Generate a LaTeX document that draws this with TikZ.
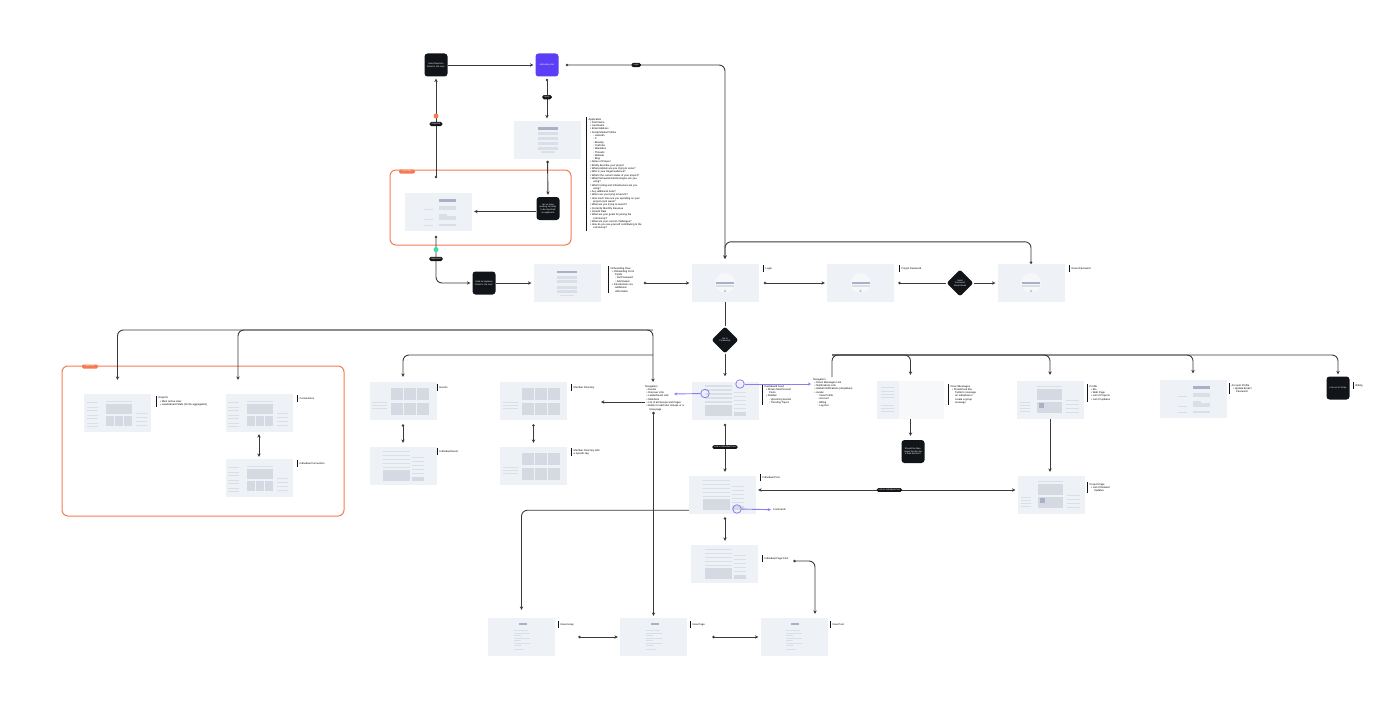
\documentclass[tikz,border=0pt]{standalone}
\usepackage{fontspec}
\setmainfont{Liberation Sans}
\usetikzlibrary{arrows.meta,shapes.geometric}

\definecolor{ink}{RGB}{17,20,24}
\definecolor{brandviolet}{RGB}{91,62,245}
\definecolor{adminorange}{RGB}{244,123,82}
\definecolor{approvegreen}{RGB}{61,219,176}
\definecolor{hotviolet}{RGB}{139,124,246}
\definecolor{scrfill}{RGB}{238,241,245}
\definecolor{uibarc}{RGB}{218,223,231}
\definecolor{uitilec}{RGB}{212,217,226}
\definecolor{uibtnc}{RGB}{168,177,197}
\definecolor{wire}{RGB}{58,58,58}

\newcommand{\itA}{\hspace*{1.5pt}\textbullet\ }
\newcommand{\itB}{\hspace*{4.5pt}◦\ }

% little wireframe mock-ups drawn inside the screens
\tikzset{
  uibar/.style={fill=uibarc},
  uitile/.style={fill=uitilec},
  uibtn/.style={fill=uibtnc},
  formui/.pic={
    \fill[uibar] (-7,-13) rectangle (7,-11.8);
    \foreach \y in {-10,-5.5,0,4.5} \fill[uibar] (-10,\y) rectangle (10,\y+2.6);
    \fill[uibtn] (-10,10) rectangle (10,12.4);
  },
  adminui/.pic={
    \foreach \y in {-14,-8,2} {\fill[uibar] (-15,\y) rectangle (-6,\y+1); \fill[uibar] (0,\y) rectangle (17,\y+1.5);}
    \fill[uibar] (0,-6) rectangle (17,-4.5); \fill[uibar] (0,-4) rectangle (8,-2.8);
    \fill[uibar] (0,4) rectangle (17,5.5);
    \fill[uibtn] (0,10) rectangle (17,13);
  },
  loginui/.pic={
    \fill[white,opacity=0.45] (0,0) circle (10);
    \fill[uibtnc!70] (0,-8) circle (1.3);
    \fill[uibar] (-9,-4) rectangle (9,-2.4);
    \fill[uibtn] (-9,-1.2) rectangle (9,1.4);
  },
  gridui/.pic={
    \foreach \y in {-14,-11,-6,-3,2,5,10} \fill[uibar] (-31,\y) rectangle (-20,\y+1);
    \foreach \x in {-12,-3,6} \fill[uitile] (\x,-13) rectangle (\x+8,-3);
    \fill[uitile] (-12,-1) rectangle (14,9);
    \fill[uibar] (-12,11) rectangle (14,12.2);
    \foreach \y in {-13,-9,-5,-1} \fill[uibar] (18,\y) rectangle (29,\y+1);
  },
  tilesui/.pic={
    \foreach \y in {-8,-5,-2} \fill[uibar] (-31,\y) rectangle (-16,\y+1);
    \foreach \x in {-12,1,14} \foreach \y in {-14,1} \fill[uitile] (\x,\y) rectangle (\x+12,\y+12);
  },
  feedui/.pic={
    \fill[uitile] (-20,-15) rectangle (7,-4);
    \foreach \y in {-2,2,6,10,14} \fill[uibar] (-20,\y) rectangle (7,\y+1.2);
    \fill[uitile] (9,-15) rectangle (21,-11);
    \foreach \y in {-8,-4,0,4,8} \fill[uibar] (9,\y) rectangle (21,\y+1);
  },
  dmui/.pic={
    \fill[white,opacity=0.5] (-12,-19) rectangle (33.5,19);
    \foreach \y in {-12,-9,-6,2,5,8,12} \fill[uibar] (-30,\y) rectangle (-17,\y+1);
  },
  profileui/.pic={
    \foreach \y in {-12,-9,-6,-3} \fill[uibar] (-30,\y) rectangle (-20,\y+1);
    \fill[uitile] (-13,-13) rectangle (12,-2); \fill[uibtn] (-11,-8) rectangle (-6,-3);
    \fill[uitile] (-13,0) rectangle (12,11);
    \fill[uibar] (-13,13) rectangle (12,14);
    \foreach \y in {-13,-9,-5,-1} \fill[uibar] (16,\y) rectangle (29,\y+1);
  },
  newui/.pic={
    \fill[uibar] (-8,-13) rectangle (2,-12);
    \foreach \y in {-9,-4,1} {\fill[uibar] (-8,\y) rectangle (-1,\y+0.8); \fill[uibar] (-8,\y+1.6) rectangle (8,\y+3);}
    \fill[uibar] (-8,6) rectangle (6,6.8);
    \fill[uibtn] (-3,12) rectangle (5,14.5);
  },
}

\begin{document}
\begin{tikzpicture}[x=1pt,y=1pt,yscale=-1,
  screen/.style={fill=scrfill, minimum width=67pt, minimum height=38pt, inner sep=0pt},
  blk/.style={fill=ink, rounded corners=3pt, minimum width=23pt, minimum height=23pt, text width=19pt, align=center, text=white, inner sep=0.5pt, font=\fontsize{2.2}{2.7}\selectfont},
  gem/.style={diamond, fill=ink, rounded corners=2.5pt, minimum width=27pt, minimum height=27pt, inner sep=0pt, text width=13pt, align=center, text=white, font=\fontsize{2.2}{2.7}\selectfont},
  pill/.style={fill=ink, rounded corners=1.6pt, text=white, inner xsep=2pt, inner ysep=1.1pt, font=\fontsize{2.2}{2.4}\selectfont},
  tag/.style={fill=adminorange, rounded corners=1.3pt, minimum width=16pt, minimum height=4pt, inner sep=0.3pt, text=white, font=\fontsize{1.6}{1.8}\selectfont},
  group/.style={draw=adminorange, line width=1pt, rounded corners=6pt},
  note/.style={anchor=north west, align=left, inner xsep=2.5pt, inner ysep=1pt, minimum height=7pt, font=\fontsize{2.6}{3.3}\selectfont},
  notebar/.style={draw=ink, line width=0.7pt},
  hot/.style={circle, draw=hotviolet, line width=0.8pt, minimum size=8.5pt, inner sep=0pt},
  hotline/.style={draw=hotviolet, line width=0.9pt, -{Stealth[length=3pt,width=3pt]}, shorten >=2pt},
  conn/.style={draw=wire, line width=0.9pt, rounded corners=6pt, shorten >=2pt, {Circle[length=2.6pt,fill=white]}-{Stealth[length=3.4pt,width=3.4pt]}},
  flow/.style={draw=wire, line width=0.9pt, rounded corners=6pt, shorten >=2pt, -{Stealth[length=3.4pt,width=3.4pt]}},
  twoway/.style={draw=wire, line width=0.9pt, shorten >=2pt, shorten <=2pt, {Stealth[length=3.4pt,width=3.4pt]}-{Stealth[length=3.4pt,width=3.4pt]}},
  link/.style={draw=wire, line width=0.9pt, rounded corners=6pt, {Circle[length=2.6pt,fill=white]}-},
  ]
  \useasboundingbox (0,0) rectangle (1400,717);

  % admin frames
  \draw[group] (390,170) rectangle (571,245);
  \draw[group] (62,366) rectangle (344,516);
  \node[tag] (admintag) at (407,171.5) {Admin Only};
  \node[tag] (admintag2) at (90,366.5) {Admin Only};

  % black steps
  \node[blk] (reject) at (436,65) {Send Rejection Email to the User};
  \node[blk, fill=brandviolet] (marketing) at (547,65) {Marketing Site};
  \node[blk] (notify) at (548,208.5) {Let us know working correctly to be launched as applicants};
  \node[blk] (accept) at (484,283) {Send Acceptance Email to the User};
  \node[blk] (msgq) at (913,451.5) {Should the Messages function be a feed function?};
  \node[blk] (stripe) at (1338,388) {Link out to Stripe};
  \node[gem] (resetmail) at (960,283) {Send Password Reset Email};
  \node[gem] (gate) at (725,340) {Go to Community};

  % screens
  \node[screen] (apply) at (547.5,139.5) {}; \pic at (apply.center) {formui};
  \node[screen] (review) at (438.5,211.5) {}; \pic at (review.center) {adminui};
  \node[screen] (onboard) at (567,283) {}; \pic at (onboard.center) {formui};
  \node[screen] (login) at (725,283) {}; \pic at (login.center) {loginui};
  \node[screen] (forgot) at (860.5,283) {}; \pic at (forgot.center) {loginui};
  \node[screen] (reset) at (1031,283) {}; \pic at (reset.center) {loginui};
  \node[screen] (reports) at (117.5,413) {}; \pic at (reports.center) {gridui};
  \node[screen] (conns) at (259,413) {}; \pic at (conns.center) {gridui};
  \node[screen] (conn1) at (259,478) {}; \pic at (conn1.center) {gridui};
  \node[screen] (events) at (403,401) {}; \pic at (events.center) {tilesui};
  \node[screen] (event1) at (403,466) {}; \pic at (event1.center) {feedui};
  \node[screen] (members) at (533.5,401) {}; \pic at (members.center) {tilesui};
  \node[screen] (members1) at (533.5,466) {}; \pic at (members1.center) {tilesui};
  \node[screen] (dash) at (725,400.5) {}; \pic at (dash.center) {feedui};
  \node[screen] (dms) at (910.5,400) {}; \pic at (dms.center) {dmui};
  \node[screen] (profile) at (1050,400) {}; \pic at (profile.center) {profileui};
  \node[screen] (account) at (1193,398.5) {}; \pic at (account.center) {adminui};
  \node[screen] (post) at (722.5,495) {}; \pic at (post.center) {feedui};
  \node[screen] (project) at (1051,495) {}; \pic at (project.center) {profileui};
  \node[screen] (pagepost) at (724.5,564) {}; \pic at (pagepost.center) {feedui};
  \node[screen] (newgroup) at (521.5,637) {}; \pic at (newgroup.center) {newui};
  \node[screen] (newpage) at (653.5,637) {}; \pic at (newpage.center) {newui};
  \node[screen] (newpost) at (794,637) {}; \pic at (newpost.center) {newui};

  % notes
  \node[note] (applbl) at (586,117) {Application\\\itA First Name\\\itA Last Name\\\itA Email Address\\\itA Social Media Profiles\\\itB LinkedIn\\\itB X\\\itB Bluesky\\\itB YouTube\\\itB Mastodon\\\itB Threads\\\itB Website\\\itB Blog\\\itA Name of Project\\\itA Briefly describe your project\\\itA What problem are you trying to solve?\\\itA Who is your target audience?\\\itA What's the current status of your project?\\\itA What frameworks/technologies are you\\\hspace*{4.5pt}using?\\\itA What hosting and infrastructure are you\\\hspace*{4.5pt}using?\\\itA Any additional tools?\\\itA When are you trying to launch?\\\itA How much time are you spending on your\\\hspace*{4.5pt}project each week?\\\itA What are you trying to launch?\\\itA Currently Monthly Revenue\\\itA Growth Rate\\\itA What are your goals for joining the\\\hspace*{4.5pt}community?\\\itA What are your current challenges?\\\itA How do you see yourself contributing to the\\\hspace*{4.5pt}community?};
  \node[note] (onblbl) at (608,266) {Onboarding Flow\\\itA Onboarding Form\\\hspace*{4.5pt}Fields\\\itB Set Password\\\itB Add Avatar\\\itA Introductions via\\\hspace*{4.5pt}additional\\\hspace*{4.5pt}information};
  \node[note] (loginlbl) at (763,265) {Login};
  \node[note] (forgotlbl) at (899,265) {Forgot Password};
  \node[note] (resetlbl) at (1069,265) {Reset Password};
  \node[note] (reportslbl) at (156,396) {Reports\\\itA Most Active User\\\itA Leaderboard Stats (for file aggregation)};
  \node[note] (connslbl) at (297,395) {Connections};
  \node[note] (conn1lbl) at (297,460) {Individual Connection};
  \node[note] (eventslbl) at (437,384) {Events};
  \node[note] (event1lbl) at (437,448) {Individual Event};
  \node[note] (memberslbl) at (571,384) {Member Directory};
  \node[note] (members1lbl) at (571,448) {Member Directory with\\a specific tag};
  \node[note] (dashlbl) at (762,384) {Dashboard Feed\\\itA Shows Most Recent\\\hspace*{4.5pt}Posts\\\itA Sidebar\\\itB Upcoming Events\\\itB Trending Topics};
  \node[note] (dmslbl) at (948,384) {Direct Messages\\\itA Should look like\\\hspace*{4.5pt}Twitter's message\\\hspace*{4.5pt}an individual or\\\hspace*{4.5pt}create a group\\\hspace*{4.5pt}message};
  \node[note] (profilelbl) at (1087,384) {Profile\\\itA Bio\\\itA Web Page\\\itA List of Projects\\\itA List of Updates};
  \node[note] (accountlbl) at (1229,383) {Account Profile\\\itA Update Email /\\\hspace*{4.5pt}Password};
  \node[note] (billinglbl) at (1353,382) {Billing};
  \node[note] (postlbl) at (760,474) {Individual Post};
  \node[note] (projectlbl) at (1087,482) {Project Page\\\itA List of Related\\\hspace*{4.5pt}Updates};
  \node[note] (pagepostlbl) at (762,555) {Individual Page Post};
  \node[note] (newgrouplbl) at (558,621) {New Group};
  \node[note] (newpagelbl) at (690,621) {New Page};
  \node[note] (newpostlbl) at (830,621) {New Post};
  \foreach \n in {applbl,onblbl,loginlbl,forgotlbl,resetlbl,reportslbl,connslbl,conn1lbl,eventslbl,event1lbl,memberslbl,members1lbl,dashlbl,dmslbl,profilelbl,accountlbl,billinglbl,postlbl,projectlbl,pagepostlbl,newgrouplbl,newpagelbl,newpostlbl}
    \draw[notebar] (\n.north west) -- (\n.south west);
  \node[note, anchor=north west, inner xsep=0pt] (navL) at (645,384) {Navigation\\\itA Events\\\itA Discover Link\\\itA Leaderboard Link\\\itA Members\\\itA List of all Groups and Pages\\\itA Button to add new Groups or a\\\hspace*{4.5pt}New page};
  \node[note, anchor=north west, inner xsep=0pt] (navR) at (813,377) {Navigation\\\itA Direct Messages Link\\\itA Notifications Link\\\itA Global Notifications (dropdown)\\\itA Avatar\\\itB View Profile\\\itB Account\\\itB Billing\\\itB Log Out};
  \node[note, inner xsep=0pt] (comments) at (773,506) {Comments};

  % connections, top
  \draw[conn, shorten <=14pt] (review.north -| reject.south) -- node[pos=0.66, circle, fill=adminorange, minimum size=5pt, inner sep=0pt] (rejdot) {} node[pos=0.59, pill] (rejpill) {Rejected} (reject.south);
  \draw[flow] (reject.east) -- (marketing.west);
  \draw[conn, shorten <=7pt, shorten >=5pt] (marketing.east) -| node[pos=0.233, pill] (loginpill) {Login} (login.north);
  \draw[conn, shorten <=2pt] (marketing.south) -- node[pos=0.47, pill] (applypill) {Apply} (apply.north -| marketing.south);
  \draw[conn, shorten <=2pt] (apply.south) -- (notify.north);
  \draw[flow] (notify.west |- review.east) -- (review.east);
  \draw[conn, shorten <=5pt] (review.south -| reject.south) |- node[pos=0.18, circle, fill=approvegreen, minimum size=5pt, inner sep=0pt] (okdot) {} node[pos=0.27, pill] (okpill) {Approved} (accept.west);
  \draw[flow] (accept.east) -- (onboard.west);
  \draw[conn] (onboard.east) ++(43,0) -- (login.west);
  \draw[conn] (login.east) ++(5,0) -- (forgot.west);
  \draw[link] (forgot.east) ++(4,0) -- (resetmail.west);
  \draw[flow] (resetmail.east) -- (reset.west);
  \draw[conn, shorten >=5pt] (reset.north) -- ++(0,-22) -| (login.north);

  % connections, middle
  \draw[wire, line width=0.9pt] (login.south) -- (gate.north);
  \draw[flow, shorten >=5pt] (gate.south) -- (dash.north);
  \coordinate (busA) at (653,330);
  \coordinate (busB) at (653,355);
  \coordinate (busC) at (832,355);
  \draw[twoway, rounded corners=6pt, shorten >=14pt] (navL.north -| busA) -- (busA) -| (reports.north);
  \draw[flow, shorten >=14pt] (busA) -| ([xshift=-21pt]conns.north);
  \draw[flow, shorten >=5pt] (busB) -| (events.north);
  \draw[twoway] (conns.south) -- (conn1.north);
  \draw[conn, shorten <=4pt, shorten >=4pt] (events.south) -- (event1.north);
  \draw[conn, shorten <=4pt, shorten >=4pt] (members.south) -- (members1.north);
  \coordinate (memtip) at (599,402);
  \draw[flow] (navL.west |- memtip) -- (memtip);
  \draw[conn] (navL.south -| newpage.north) -- (newpage.north);
  \draw[flow, shorten >=8pt] (post.south west) ++(0,-4) -| (newgroup.north);

  % dashboard navigation hot spots
  \node[hot] (hotR) at (740,384) {};
  \node[hot] (hotL) at (705,393.5) {};
  \node[hot] (hotC) at (737,509) {};
  \coordinate (navLtip) at (672,394);
  \draw[hotline] (hotR) -- (navR.west |- hotR);
  \draw[hotline] (hotL) -- (navLtip);
  \draw[hotline] (hotC) -- (comments.west);

  % connections, right
  \draw[flow] (navR.north -| busC) -- (busC) -| (stripe.north);
  \draw[flow, shorten >=6pt] (busC) -| (dms.north);
  \draw[flow, shorten >=6pt] (busC) -| (profile.north);
  \draw[flow, shorten >=6pt] (busC) -| (account.north);
  \draw[flow, shorten >=4pt] (dms.south) -- (msgq.north -| dms.south);
  \draw[flow, shorten >=4pt] (profile.south) -- (project.north -| profile.south);
  \draw[twoway] (post.east |- 0,490) -- node[pos=0.51, pill] (projlink) {Link to Individual Post} (project.west |- 0,490);

  % connections, bottom
  \draw[conn, shorten <=4pt, shorten >=4pt] (dash.south) -- node[pos=0.487, pill] (postlink) {Link to Individual Post} (dash.south |- post.north);
  \draw[conn, shorten <=3pt, shorten >=4pt] (dash.south |- post.south) -- (dash.south |- pagepost.north);
  \draw[conn, shorten >=4pt] (pagepost.east) ++(35,-3) -| ([xshift=21pt]newpost.north);
  \draw[conn, shorten >=2pt] (newgroup.east) ++(23,0) -- (newpage.west);
  \draw[conn, shorten >=2pt] (newpage.east) ++(25,0) -- (newpost.west);
\end{tikzpicture}
\end{document}
